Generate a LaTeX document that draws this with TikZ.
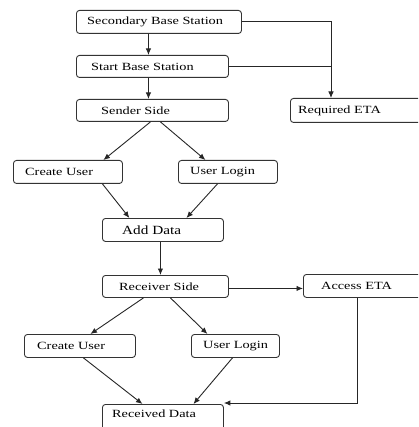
\documentclass[tikz,border=0pt]{standalone}
\usepackage{fontspec}
\setmainfont{Liberation Serif}
\usetikzlibrary{arrows.meta,calc}
\tikzset{
  box/.style={draw=black!80, line width=0.9pt, rounded corners=3pt, inner sep=0pt, anchor=north west},
  lbl/.style={anchor=west, inner sep=0pt, font=\fontsize{11}{13}\selectfont},
  biglbl/.style={anchor=west, inner sep=0pt, font=\fontsize{12.5}{14}\selectfont},
  arr/.style={draw=black!85, line width=0.9pt, -{Latex[length=6.5pt,width=5.5pt]}},
  ln/.style={draw=black!85, line width=0.9pt}
}
\newcommand{\wide}[1]{\scalebox{1.3}[1]{#1}}
\newcommand{\widb}[1]{\scalebox{1.22}[1]{#1}}
\begin{document}
\begin{tikzpicture}[x=1pt,y=-1pt]
\clip (0,0) rectangle (418,427);
% boxes
\node[box, minimum width=165pt, minimum height=23pt] (sec) at (76,10) {};
\node[box, minimum width=152pt, minimum height=22pt] (start) at (76,55) {};
\node[box, minimum width=152pt, minimum height=22pt] (sender) at (76,99) {};
\node[box, minimum width=140pt, minimum height=24pt] (req) at (290,98) {};
\node[box, minimum width=109pt, minimum height=23pt] (cu1) at (13,160) {};
\node[box, minimum width=99pt, minimum height=23pt] (ul1) at (178,160) {};
\node[box, minimum width=121pt, minimum height=23pt] (add) at (102,218) {};
\node[box, minimum width=126pt, minimum height=22pt] (recv) at (102,275) {};
\node[box, minimum width=127pt, minimum height=23pt] (acc) at (303,274) {};
\node[box, minimum width=111pt, minimum height=23pt] (cu2) at (24,334) {};
\node[box, minimum width=88pt, minimum height=23pt] (ul2) at (191,334) {};
\node[box, minimum width=121pt, minimum height=36pt] (rd) at (102,404) {};
% labels
\node[lbl] (tsec) at ([xshift=11pt]sec.west) {\wide{Secondary Base Station}};
\node[lbl] (tstart) at ([xshift=15pt]start.west) {\wide{Start Base Station}};
\node[lbl] (tsender) at ([xshift=25pt]sender.west) {\wide{Sender Side}};
\node[lbl] (treq) at ([xshift=8pt]req.west) {\wide{Required ETA}};
\node[lbl] (tcu1) at ([xshift=12pt]cu1.west) {\wide{Create User}};
\node[lbl] (tul1) at ([xshift=12pt]ul1.west) {\wide{User Login}};
\node[biglbl] (tadd) at ([xshift=20pt]add.west) {\widb{Add Data}};
\node[lbl] (trecv) at ([xshift=17pt]recv.west) {\wide{Receiver Side}};
\node[lbl] (tacc) at ([xshift=18pt]acc.west) {\wide{Access ETA}};
\node[lbl] (tcu2) at ([xshift=13pt]cu2.west) {\wide{Create User}};
\node[lbl] (tul2) at ([xshift=12pt]ul2.west) {\wide{User Login}};
\node[lbl] (trd) at ([xshift=10pt,yshift=-6pt]rd.north west) [anchor=north west] {\wide{Received Data}};
% connectors
\coordinate (jreq) at ([xshift=41pt]req.north west);
\draw[arr] ([xshift=-4pt]start.north |- sec.south) -- ([xshift=-4pt]start.north);
\draw[arr] ([xshift=-4pt]sender.north |- start.south) -- ([xshift=-4pt]sender.north);
\draw[arr] (sec.east) -| (jreq);
\draw[ln] (start.east) -- (start.east -| jreq);
\draw[arr] ([xshift=-2pt]sender.south) -- ([xshift=35.5pt]cu1.north);
\draw[arr] ([xshift=8pt]sender.south) -- ([xshift=-22.5pt]ul1.north);
\draw[arr] ([xshift=34.5pt]cu1.south) -- ([xshift=-33.5pt]add.north);
\draw[arr] ([xshift=-10.5pt]ul1.south) -- ([xshift=23.5pt]add.north);
\draw[arr] ([xshift=-2.5pt]add.south) -- ([xshift=-5pt]recv.north);
\draw[arr] ([yshift=-2pt]recv.east) -- ([yshift=-2pt]recv.east -| acc.west);
\draw[arr] ([xshift=-22pt]recv.south) -- ([xshift=10.5pt]cu2.north);
\draw[arr] ([xshift=5pt]recv.south) -- ([xshift=-28pt]ul2.north);
\draw[arr] ([xshift=3.5pt]cu2.south) -- ([xshift=-20.5pt]rd.north);
\draw[arr] ([xshift=-3pt]ul2.south) -- ([xshift=30.5pt]rd.north);
\draw[arr] ([xshift=-9.5pt]acc.south) |- ([yshift=1pt]rd.north east);
\end{tikzpicture}
\end{document}
